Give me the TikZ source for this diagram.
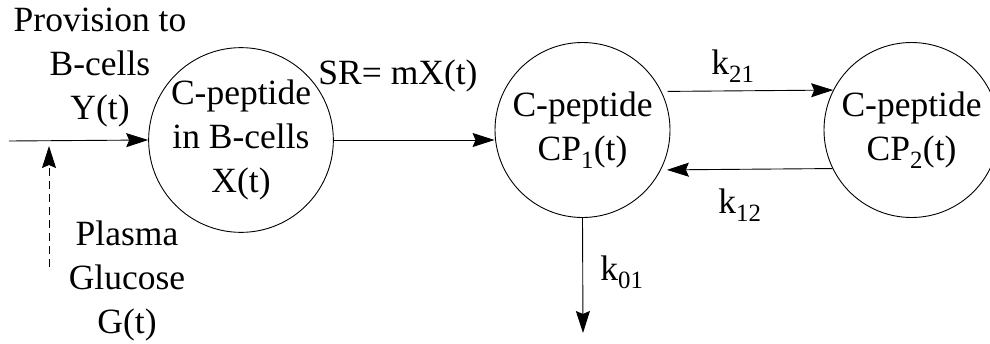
\documentclass[tikz,border=0pt]{standalone}
\usepackage{fontspec}
\setmainfont{LiberationSerif-Regular.ttf}
\usetikzlibrary{arrows.meta}

\begin{document}
\begin{tikzpicture}[x=1pt,y=-1pt,line width=0.9pt,
  txt/.style={align=center,inner sep=0pt,font=\fontsize{35.5}{44}\selectfont},
  comp/.style={txt,circle,draw,minimum size=175pt},
  arr/.style={-{Stealth[length=22pt,width=14pt,inset=3pt]}}]
  \useasboundingbox (0,0) rectangle (990,343);
  % compartments
  \node[comp] (cb) at (241,140) {C-peptide\\in B-cells\\X(t)};
  \node[comp] (cp1) at (582.5,130) {C-peptide\\CP\textsubscript{1}(t)};
  \node[comp] (cp2) at (911.5,130) {C-peptide\\CP\textsubscript{2}(t)};
  % labels
  \node[txt] (prov) at (100,68) {Provision to\\B-cells\\Y(t)};
  \node[txt] (gluc) at (127,281) {Plasma\\Glucose\\G(t)};
  \node[txt] (sr) at (398,76) {SR= mX(t)};
  \node[txt] (k21) at (733,66) {k\textsubscript{21}};
  \node[txt] (k12) at (740,205) {k\textsubscript{12}};
  \node[txt] (k01) at (622,272) {k\textsubscript{01}};
  % free ends
  \coordinate (in) at (9,141);
  \coordinate (gs) at (49,267);
  \coordinate (gt) at (49,146);
  \coordinate (out) at (583,333);
  % flows
  \draw[arr] (in) -- (cb.west);
  \draw[arr,dash pattern=on 8pt off 5pt] (gs) -- (gt);
  \draw[arr] (cb.east) -- (cb.east -| cp1.west);
  \draw[arr,shorten <=6pt] (cp1.26.5) -- (cp2.153.5);
  \draw[arr,shorten >=6pt] (cp2.206.5) -- (cp1.333.5);
  \draw[arr] (cp1.south) -- (out);
\end{tikzpicture}
\end{document}
